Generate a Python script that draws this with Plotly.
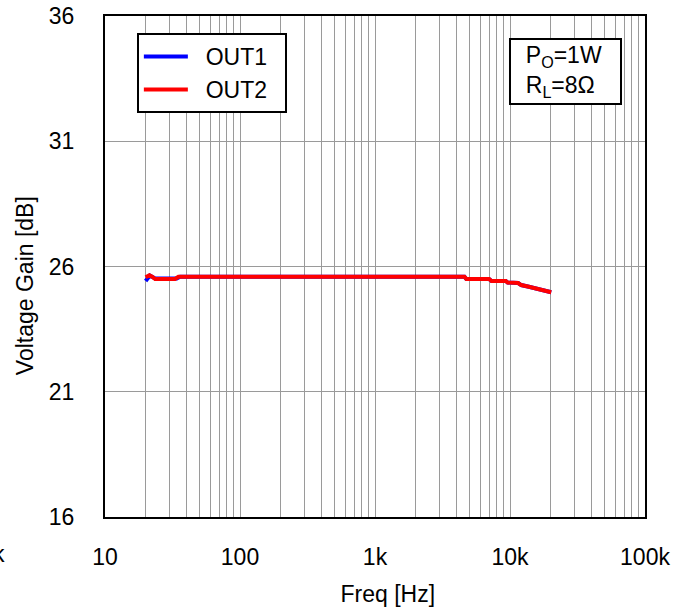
import plotly.graph_objects as go

# ---- data ----
freq_out2 = [20, 21.3, 22.5, 23.5, 33, 35, 4600, 4750, 7000, 7300, 9300, 9600,
             11500, 12100, 13800, 16000, 18600, 20200]
gain_out2 = [25.57, 25.65, 25.58, 25.50, 25.50, 25.59, 25.59, 25.50, 25.50, 25.42, 25.42, 25.36,
             25.34, 25.26, 25.19, 25.09, 25.02, 24.97]

freq_out1 = [20, 20.8, 21.5, 22.5, 23.5, 34, 36, 4600, 4750, 7000, 7300, 9300, 9600,
             11500, 12100, 13800, 16000, 18600, 20200]
gain_out1 = [25.42, 25.55, 25.64, 25.58, 25.52, 25.52, 25.59, 25.59, 25.50, 25.50, 25.42, 25.42, 25.36,
             25.34, 25.26, 25.19, 25.09, 25.02, 24.97]

x_major = [10, 100, 1000, 10000, 100000]
x_major_labels = ["10", "100", "1k", "10k", "100k"]
y_ticks = [16, 21, 26, 31, 36]

# grid positions for log axis (1..9 per decade)
x_grid = []
x_grid_text = []
for d in [10, 100, 1000, 10000]:
    for m in range(1, 10):
        v = d * m
        x_grid.append(v)
        x_grid_text.append(x_major_labels[x_major.index(v)] if v in x_major else "")
x_grid.append(100000)
x_grid_text.append("100k")

FONT = "Liberation Sans, Arial, sans-serif"
FS = 23

fig = go.Figure()
fig.add_trace(go.Scatter(x=freq_out1, y=gain_out1, mode="lines", name="&nbsp;&nbsp;OUT1&nbsp;&nbsp;",
                         line=dict(color="#0000FF", width=4)))
fig.add_trace(go.Scatter(x=freq_out2, y=gain_out2, mode="lines", name="&nbsp;&nbsp;OUT2&nbsp;&nbsp;",
                         line=dict(color="#FF0000", width=4)))

fig.update_layout(
    width=690, height=611,
    margin=dict(l=105, r=45, t=16, b=94, autoexpand=False),
    paper_bgcolor="white", plot_bgcolor="white",
    font=dict(family=FONT, size=FS, color="black"),
    showlegend=True,
    legend=dict(x=0.059, y=0.966, xanchor="left", yanchor="top",
                bordercolor="black", borderwidth=2, bgcolor="white",
                font=dict(family=FONT, size=FS, color="black"),
                itemwidth=44, tracegroupgap=0),
    xaxis=dict(type="log", range=[1, 5], tickvals=x_grid, ticktext=x_grid_text,
               showgrid=True, gridcolor="#9a9a9a", gridwidth=1,
               showline=True, linecolor="black", linewidth=2, mirror=True,
               ticks="", ticklabelstandoff=18, zeroline=False, automargin=False,
               title=dict(text="&nbsp;&nbsp;&nbsp;&nbsp;Freq [Hz]", standoff=17, font=dict(size=FS))),
    yaxis=dict(range=[16, 36], tickvals=y_ticks,
               showgrid=True, gridcolor="#9a9a9a", gridwidth=1,
               showline=True, linecolor="black", linewidth=2, mirror=True,
               ticks="", ticklabelstandoff=24, zeroline=False, automargin=False,
               title=dict(text="Voltage Gain [dB]&nbsp;&nbsp;&nbsp;&nbsp;&nbsp;&nbsp;", standoff=9,
                          font=dict(size=FS))),
)

fig.add_annotation(xref="paper", yref="paper", x=0.957, y=0.956, xanchor="right", yanchor="top",
                   text="&nbsp;&nbsp;P<sub>O</sub>=1W<br>&nbsp;&nbsp;R<sub>L</sub>=8Ω",
                   align="left", showarrow=False, width=105,
                   bordercolor="black", borderwidth=2, borderpad=2, bgcolor="white",
                   font=dict(family=FONT, size=FS, color="black"))

# clipped label fragment at the far left of the reference
fig.add_annotation(xref="paper", yref="paper", x=-98 / 540, y=-37 / 501, xanchor="right", yanchor="middle",
                   text="k", showarrow=False, font=dict(family=FONT, size=FS, color="black"))

fig.write_html("out.html", config={"displayModeBar": False},
               post_script="document.body.style.margin='0px';")
